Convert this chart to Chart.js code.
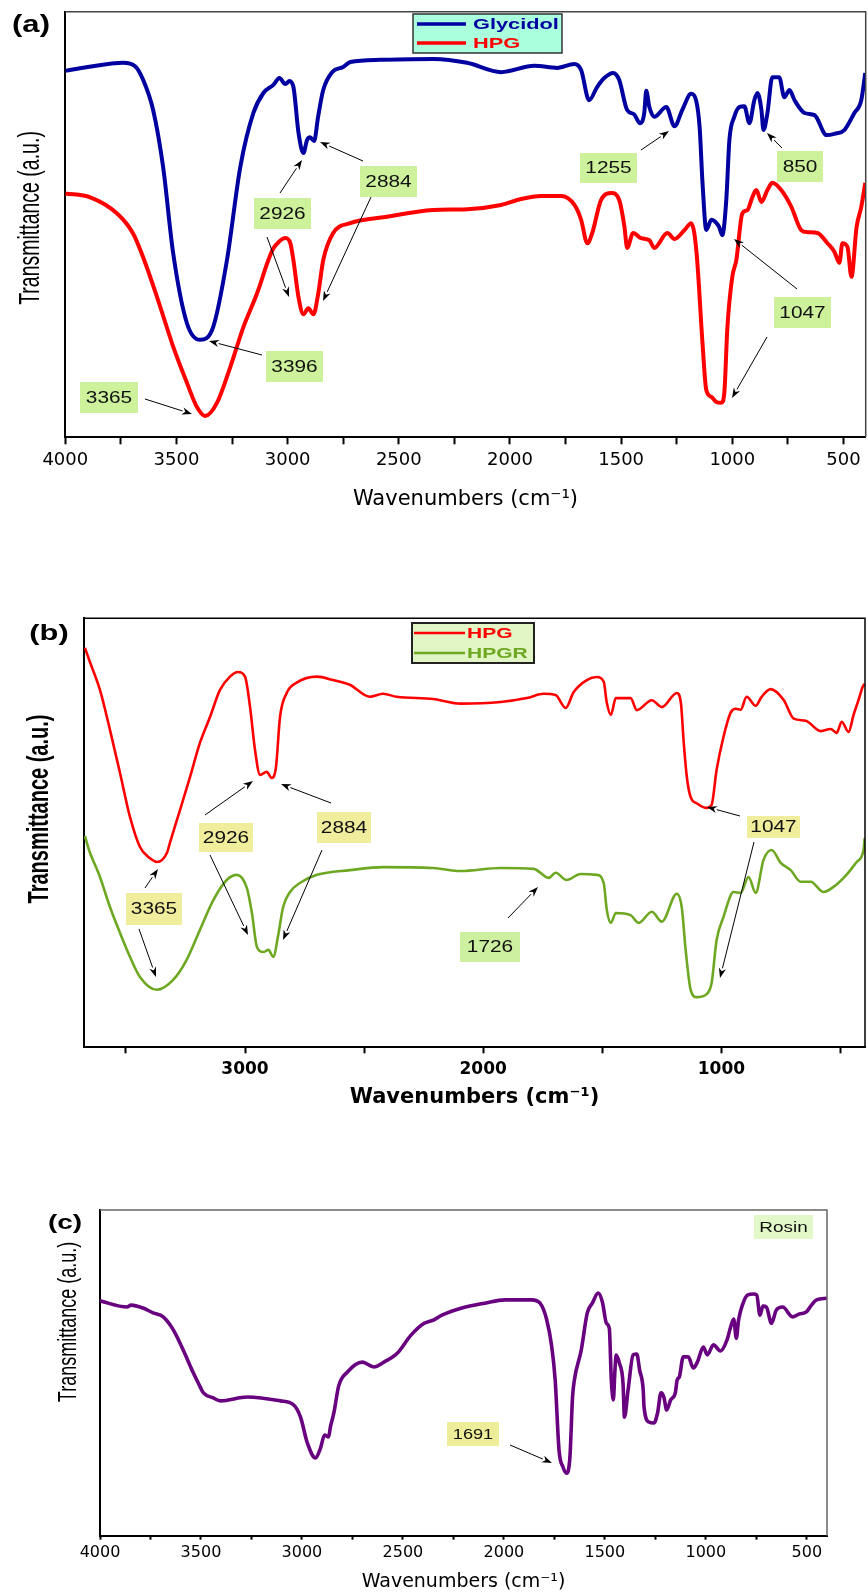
<!DOCTYPE html>
<html><head><meta charset="utf-8">
<script src="https://cdn.jsdelivr.net/npm/chart.js@4.4.1/dist/chart.umd.min.js"></script>
<style>
html,body{margin:0;padding:0;background:#fff;width:868px;height:1593px;overflow:hidden;}
.p{position:absolute;left:0;}
canvas{display:block;}
</style></head><body>
<div class="p" style="top:0px"><canvas id="ca" width="868" height="520"></canvas></div>
<div class="p" style="top:560px"><canvas id="cb" width="868" height="560"></canvas></div>
<div class="p" style="top:1150px"><canvas id="cc" width="868" height="443"></canvas></div>
<script>
// ---------- DATA ----------
// Panel (a)
const glycidolWn = [4000,3900,3740,3686,3650,3605,3560,3515,3453,3394,3335,3273,3213,3154,3109,3064,3037,3010,2992,2974,2951,2929,2913,2899,2881,2863,2840,2800,2750,2718,2584,2344,2193,2040,1890,1787,1711,1680,1644,1608,1576,1536,1509,1473,1442,1415,1396,1387,1373,1351,1297,1260,1225,1185,1163,1147,1134,1117,1094,1072,1059,1045,1027,1013,991,968,946,923,901,887,869,860,842,820,789,766,743,720,675,630,576,541,496,451,420,402];
const glycidolT = [86.1,87.0,88.0,87.2,84.0,76.9,63.5,43.3,26.8,22.9,25.9,41.6,63.5,76.2,80.9,82.8,84.4,83.0,83.7,82.3,71.5,66.8,69.8,70.5,69.6,75.3,81.6,85.8,87.0,88.2,88.7,88.9,88.0,85.8,87.3,86.8,87.7,86.3,79.2,82.3,84.4,85.6,84.0,76.9,75.9,73.8,76.2,81.4,77.6,75.3,77.6,73.1,76.9,80.7,79.2,72.9,59.8,48.7,51.1,50.4,49.4,47.5,55.8,69.9,75.3,77.6,77.8,73.8,79.2,80.9,76.9,72.2,76.2,84.6,84.6,79.9,81.6,79.2,76.2,75.7,71.0,71.3,72.2,76.2,79.2,85.6];
const hpgAWn = [4000,3888,3767,3695,3650,3587,3514,3453,3408,3371,3318,3258,3199,3137,3087,3064,3040,3010,2988,2974,2951,2929,2907,2884,2862,2840,2795,2718,2570,2344,2193,2040,1950,1860,1770,1710,1680,1652,1630,1590,1543,1509,1485,1473,1446,1410,1373,1351,1292,1260,1215,1185,1171,1158,1134,1117,1094,1072,1049,1036,1022,1000,982,955,932,910,892,869,842,820,780,734,690,662,617,572,541,518,505,482,464,441,420,402];
const hpgAT = [57.3,56.4,52.6,47.9,42.3,32.9,21.2,12.8,7.1,5.0,8.1,16.5,25.9,33.9,41.6,44.4,45.9,46.8,45.6,41.6,32.9,28.9,30.3,28.9,33.9,41.6,48.0,50.3,51.7,53.4,53.6,54.6,56.0,56.7,56.7,54.6,51.1,45.6,48.0,55.8,57.4,55.8,49.4,44.5,48.0,46.8,46.3,44.5,48.0,46.6,48.7,50.3,48.0,41.6,22.1,11.1,9.5,8.3,8.1,10.4,25.9,37.7,41.6,52.6,53.4,56.4,58.1,55.3,58.1,59.8,58.1,54.1,48.7,48.2,48.0,45.6,43.6,41.0,45.6,44.7,37.7,49.4,54.1,59.8];
const ticksA = [500,750,1000,1250,1500,1750,2000,2250,2500,2750,3000,3250,3500,3750,4000];
const labelsA = [500,1000,1500,2000,2500,3000,3500,4000];

// Panel (b)
const hpgBWn = [3672,3651,3609,3567,3525,3483,3441,3400,3370,3328,3315,3273,3231,3189,3147,3105,3063,3030,3000,2979,2958,2937,2909,2888,2870,2853,2825,2783,2698,2630,2560,2476,2420,2363,2210,2094,1926,1817,1746,1696,1654,1620,1565,1523,1494,1481,1464,1443,1381,1355,1292,1250,1187,1170,1158,1145,1129,1104,1062,1041,1020,991,961,940,919,894,856,831,793,739,696,646,583,541,516,495,466,445,424,407,400];
const hpgBT = [93.1,89.8,83.3,74.0,64.0,53.7,46.7,44.1,43.2,45.3,47.7,55.3,63.0,71.0,77.0,83.3,86.4,87.5,86.4,79.4,69.3,63.5,64.2,62.8,65.3,77.0,82.6,85.0,86.4,85.6,84.5,81.7,82.4,81.7,81.2,80.1,80.5,81.4,82.4,82.1,79.1,82.8,85.6,86.3,85.2,80.3,77.5,81.4,81.4,78.6,80.9,79.3,82.6,80.3,71.0,63.0,58.3,56.9,55.8,56.5,64.7,72.4,78.0,78.9,78.7,81.7,79.6,81.7,83.5,81.0,76.6,76.1,73.7,74.2,73.3,75.9,73.5,77.5,81.0,84.0,84.7];
const hpgrWn = [3672,3655,3609,3567,3525,3483,3441,3370,3302,3245,3189,3133,3077,3034,2992,2971,2950,2923,2902,2881,2862,2840,2811,2770,2698,2560,2420,2210,2094,1926,1788,1725,1696,1650,1591,1523,1494,1481,1464,1443,1381,1347,1292,1250,1187,1166,1150,1129,1104,1062,1041,1020,991,949,919,886,856,823,789,751,709,667,625,571,529,475,432,403,398];
const hpgrT = [49.2,46.0,39.7,32.7,26.7,21.1,16.4,13.4,15.7,20.4,27.4,34.3,39.0,40.2,37.1,31.3,23.4,22.2,22.7,21.1,25.7,32.7,36.2,38.3,40.2,41.3,42.0,41.8,41.1,41.8,41.6,39.5,40.7,39.0,40.4,40.2,38.3,32.0,29.0,31.3,30.8,29.0,31.6,29.3,35.8,32.5,22.7,13.4,11.7,12.4,15.0,25.0,30.4,36.2,36.0,39.7,36.0,43.7,46.0,43.0,41.3,38.6,38.6,36.2,37.4,40.2,43.2,46.0,48.8];
const ticksB = [500,1000,1500,2000,2500,3000,3500];
const labelsB = [1000,2000,3000];

// Panel (c)
const rosinWn = [4000,3866,3846,3787,3737,3687,3637,3588,3538,3504,3489,3439,3404,3270,3107,3042,3007,2973,2933,2908,2888,2868,2859,2842,2818,2776,2701,2644,2594,2527,2461,2395,2346,2307,2208,2094,1995,1862,1821,1788,1763,1746,1727,1707,1690,1673,1660,1651,1617,1587,1562,1533,1512,1492,1478,1468,1458,1450,1444,1428,1410,1403,1385,1360,1342,1328,1310,1306,1282,1257,1239,1222,1208,1194,1174,1151,1142,1131,1112,1087,1062,1042,1012,993,962,928,895,879,862,849,838,819,794,764,748,732,717,700,675,651,619,571,536,502,477,452,400];
const rosinT = [72.1,70.2,70.8,69.9,68.4,67.2,63.2,57.0,50.0,45.7,43.9,42.3,41.4,42.6,41.4,40.2,36.4,28.4,23.9,26.9,30.9,30.3,33.4,37.7,46.0,50.2,53.3,51.8,53.3,56.1,61.5,65.2,66.3,67.7,69.9,71.4,72.4,72.4,71.4,66.3,58.0,47.8,26.3,21.0,19.2,24.2,42.6,47.8,57.0,68.4,71.4,74.5,71.7,65.2,63.7,47.8,41.7,50.9,55.5,53.0,46.8,36.4,44.7,55.5,55.8,50.9,44.7,39.5,34.9,34.6,37.7,43.9,42.6,38.6,41.7,43.9,47.8,48.8,54.9,54.9,51.5,53.3,57.9,55.5,58.6,56.7,60.1,63.7,66.5,60.6,66.2,70.8,73.9,74.2,73.9,67.7,70.5,70.2,65.2,69.3,70.2,67.2,68.1,68.7,70.8,72.4,72.9];
const ticksC = ticksA;
const labelsC = labelsA;

// ---------- HELPERS ----------
const pts = (xs, ys) => xs.map((x, i) => ({x: x, y: ys[i]}));

function hText(ctx, s, x, y, o) {
  ctx.save(); ctx.translate(x, y); ctx.scale(o.sx || 1, 1);
  ctx.font = o.font; ctx.fillStyle = o.color || '#000';
  ctx.textAlign = o.align || 'center'; ctx.textBaseline = o.base || 'middle';
  ctx.fillText(s, 0, 0); ctx.restore();
}
function vText(ctx, s, x, y, font, sy, color) {
  ctx.save(); ctx.translate(x, y); ctx.rotate(-Math.PI / 2); ctx.scale(1, sy);
  ctx.font = font; ctx.fillStyle = color || '#000';
  ctx.textAlign = 'center'; ctx.textBaseline = 'alphabetic';
  ctx.fillText(s, 0, 0); ctx.restore();
}
function arrow(ctx, x1, y1, x2, y2) {
  const a = Math.atan2(y2 - y1, x2 - x1), L = 10, W = 3.6;
  const bx = x2 - L * Math.cos(a), by = y2 - L * Math.sin(a);
  ctx.save();
  ctx.strokeStyle = '#000'; ctx.fillStyle = '#000'; ctx.lineWidth = 1;
  ctx.beginPath(); ctx.moveTo(x1, y1); ctx.lineTo(bx, by); ctx.stroke();
  ctx.beginPath(); ctx.moveTo(x2, y2);
  ctx.lineTo(bx + W * Math.sin(a), by - W * Math.cos(a));
  ctx.lineTo(x2 - 0.7 * L * Math.cos(a), y2 - 0.7 * L * Math.sin(a));
  ctx.lineTo(bx - W * Math.sin(a), by + W * Math.cos(a));
  ctx.closePath(); ctx.fill(); ctx.restore();
}
function labelBox(ctx, b, fill, font, sx) {
  ctx.fillStyle = fill; ctx.fillRect(b.x1, b.y1, b.x2 - b.x1, b.y2 - b.y1);
  hText(ctx, b.t, (b.x1 + b.x2) / 2, (b.y1 + b.y2) / 2 + 1, {font: font, sx: sx, color: '#111'});
}
function frame(ctx, chart, color, w) {
  const a = chart.chartArea;
  ctx.save(); ctx.strokeStyle = color; ctx.lineWidth = w;
  ctx.beginPath(); ctx.moveTo(a.left, a.top); ctx.lineTo(a.right, a.top); ctx.lineTo(a.right, a.bottom); ctx.stroke();
  ctx.restore();
}
function decor(top, fn) {
  return { id: 'decor', afterDraw(chart) { const ctx = chart.ctx; ctx.save(); ctx.translate(0, -top); fn(ctx, chart); ctx.restore(); } };
}

function makeChart(id, o) {
  return new Chart(document.getElementById(id), {
    type: 'line',
    data: { datasets: o.datasets.map(d => ({
      label: d.label, data: d.data, borderColor: d.color, backgroundColor: d.color,
      borderWidth: d.width, pointRadius: 0, fill: false, cubicInterpolationMode: 'monotone'
    })) },
    options: {
      responsive: false, animation: false, devicePixelRatio: 1,
      layout: { padding: { top: o.padTop, right: o.padRight, left: 0, bottom: 0 } },
      plugins: { legend: { display: false }, tooltip: { enabled: false } },
      scales: {
        x: {
          type: 'linear', reverse: true, min: o.xmin, max: o.xmax,
          afterBuildTicks: s => { s.ticks = o.ticks.map(v => ({value: v})); },
          afterFit: s => { s.height = o.xHeight; },
          ticks: { autoSkip: false, maxRotation: 0, minRotation: 0, padding: o.tickPad, color: '#000',
                   font: o.tickFont, callback: v => o.labels.includes(v) ? String(v) : '' },
          grid: { display: true, drawOnChartArea: false, drawTicks: true, tickLength: o.tickLen, tickColor: '#000', tickWidth: 2 },
          border: { display: true, color: '#000', width: 2 },
          title: { display: true, text: 'Wavenumbers (cm⁻¹)', color: '#000', font: o.titleFont, padding: { top: 0, bottom: o.titlePad } }
        },
        y: {
          type: 'linear', min: 0, max: 100,
          afterFit: s => { s.width = o.yWidth; },
          ticks: { display: false }, grid: { display: false },
          border: { display: true, color: '#000', width: 2 }
        }
      }
    },
    plugins: [o.plugin]
  });
}

// ---------- PANEL (a) ----------
const boxesA = [
  {t:'2926', x1:254, y1:198, x2:311, y2:229}, {t:'2884', x1:360, y1:166, x2:417, y2:197},
  {t:'3396', x1:266, y1:351, x2:323, y2:382}, {t:'3365', x1:80, y1:382, x2:138, y2:413},
  {t:'1255', x1:580, y1:153, x2:637, y2:183}, {t:'850', x1:777, y1:151, x2:823, y2:182},
  {t:'1047', x1:774, y1:297, x2:831, y2:328}
];
const arrowsA = [[280,193,302,160],[363,161,320,142],[267,237,289,297],[371,197,323,301],[262,355,209,341],[145,399,192,414],[641,150,669,131],[782,148,767,133],[797,289,734,239],[767,337,732,398]];

makeChart('ca', {
  datasets: [
    {label:'Glycidol', data: pts(glycidolWn, glycidolT), color:'#0000a0', width:4},
    {label:'HPG', data: pts(hpgAWn, hpgAT), color:'#ff0000', width:4}
  ],
  xmin: 400, xmax: 4000, ticks: ticksA, labels: labelsA,
  padTop: 11.7, padRight: 2.3, yWidth: 65.3, xHeight: 82.7,
  tickPad: 5, tickLen: 7, tickFont: {family:'DejaVu Sans', size:18},
  titleFont: {family:'DejaVu Sans', size:21}, titlePad: 7.4,
  plugin: decor(0, (ctx, chart) => {
    frame(ctx, chart, '#444', 1.5);
    boxesA.forEach(b => labelBox(ctx, b, '#cdf29b', '16px "Liberation Sans", Arial, sans-serif', 1.3));
    arrowsA.forEach(a => arrow(ctx, a[0], a[1], a[2], a[3]));
    // legend
    ctx.fillStyle = '#aaffdd'; ctx.fillRect(413, 14, 149, 39);
    ctx.strokeStyle = '#333'; ctx.lineWidth = 1.5; ctx.strokeRect(413, 14, 149, 39);
    const ds = chart.data.datasets, ly = [24, 43];
    ds.forEach((d, i) => {
      ctx.strokeStyle = d.borderColor; ctx.lineWidth = 3.5;
      ctx.beginPath(); ctx.moveTo(417, ly[i]); ctx.lineTo(466, ly[i]); ctx.stroke();
      hText(ctx, d.label, 473, ly[i] + 1, {font:'bold 15px "Liberation Sans", Arial, sans-serif', sx:1.45, color:d.borderColor, align:'left'});
    });
    hText(ctx, '(a)', 31, 26, {font:'bold 23px "Liberation Sans", Arial, sans-serif', sx:1.35});
    vText(ctx, 'Transmittance (a.u.)', 39, 218, '19.5px "Liberation Sans", Arial, sans-serif', 1.5);
  })
});

// ---------- PANEL (b) ----------
const boxesB = [
  {t:'2926', x1:199, y1:823, x2:253, y2:852, c:'#f0ed9c'}, {t:'2884', x1:317, y1:812, x2:371, y2:843, c:'#f0ed9c'},
  {t:'3365', x1:126, y1:893, x2:182, y2:925, c:'#f0ed9c'}, {t:'1047', x1:747, y1:816, x2:800, y2:838, c:'#f0ed9c'},
  {t:'1726', x1:460, y1:932, x2:520, y2:962, c:'#cdf0a0'}
];
const arrowsB = [[205,815,253,781],[331,803,281,784],[210,855,248,935],[322,850,283,940],[145,888,158,869],[139,929,156,977],[740,816,707,807],[754,842,720,978],[508,918,538,887]];

makeChart('cb', {
  datasets: [
    {label:'HPG', data: pts(hpgBWn, hpgBT), color:'#ff0000', width:2.6},
    {label:'HPGR', data: pts(hpgrWn, hpgrT), color:'#6ea822', width:2.6}
  ],
  xmin: 397, xmax: 3676, ticks: ticksB, labels: labelsB,
  padTop: 58.3, padRight: 3, yWidth: 84, xHeight: 72.7,
  tickPad: 6.5, tickLen: 6, tickFont: {family:'DejaVu Sans', size:17, weight:'bold'},
  titleFont: {family:'DejaVu Sans', size:21, weight:'bold'}, titlePad: 9.4,
  plugin: decor(560, (ctx, chart) => {
    ctx.save(); ctx.translate(0, 560); frame(ctx, chart, '#000', 1.5); ctx.restore();
    boxesB.forEach(b => labelBox(ctx, b, b.c, '16px "Liberation Sans", Arial, sans-serif', 1.3));
    arrowsB.forEach(a => arrow(ctx, a[0], a[1], a[2], a[3]));
    ctx.fillStyle = '#e2f5c5'; ctx.fillRect(412, 623, 122, 40);
    ctx.strokeStyle = '#222'; ctx.lineWidth = 2; ctx.strokeRect(412, 623, 122, 40);
    const ds = chart.data.datasets, ly = [633, 653];
    ds.forEach((d, i) => {
      ctx.strokeStyle = d.borderColor; ctx.lineWidth = 2.5;
      ctx.beginPath(); ctx.moveTo(414, ly[i]); ctx.lineTo(465, ly[i]); ctx.stroke();
      hText(ctx, d.label, 467, ly[i] + 1, {font:'bold 14px "Liberation Sans", Arial, sans-serif', sx:1.5, color:d.borderColor, align:'left'});
    });
    hText(ctx, '(b)', 49, 634, {font:'bold 22px "Liberation Sans", Arial, sans-serif', sx:1.4});
    vText(ctx, 'Transmittance (a.u.)', 48, 809, 'bold 20px "Liberation Sans", Arial, sans-serif', 1.45);
  })
});

// ---------- PANEL (c) ----------
makeChart('cc', {
  datasets: [
    {label:'Rosin', data: pts(rosinWn, rosinT), color:'#680080', width:3.6}
  ],
  xmin: 400, xmax: 4000, ticks: ticksC, labels: labelsC,
  padTop: 60, padRight: 41, yWidth: 100, xHeight: 57.3,
  tickPad: 3.7, tickLen: 4, tickFont: {family:'DejaVu Sans', size:16},
  titleFont: {family:'DejaVu Sans', size:19}, titlePad: 0,
  plugin: decor(1150, (ctx, chart) => {
    ctx.save(); ctx.translate(0, 1150); frame(ctx, chart, '#666', 1.5); ctx.restore();
    labelBox(ctx, {t: chart.data.datasets[0].label, x1:754, y1:1215, x2:813, y2:1239}, '#e2f8c8', '14px "Liberation Sans", Arial, sans-serif', 1.35);
    labelBox(ctx, {t:'1691', x1:447, y1:1422, x2:499, y2:1446}, '#eeee9a', '14px "Liberation Sans", Arial, sans-serif', 1.3);
    arrow(ctx, 510, 1445, 552, 1463);
    hText(ctx, '(c)', 65, 1223, {font:'bold 20px "Liberation Sans", Arial, sans-serif', sx:1.4});
    vText(ctx, 'Transmittance (a.u.)', 76, 1322, '18px "Liberation Sans", Arial, sans-serif', 1.47);
  })
});
</script>
</body></html>
